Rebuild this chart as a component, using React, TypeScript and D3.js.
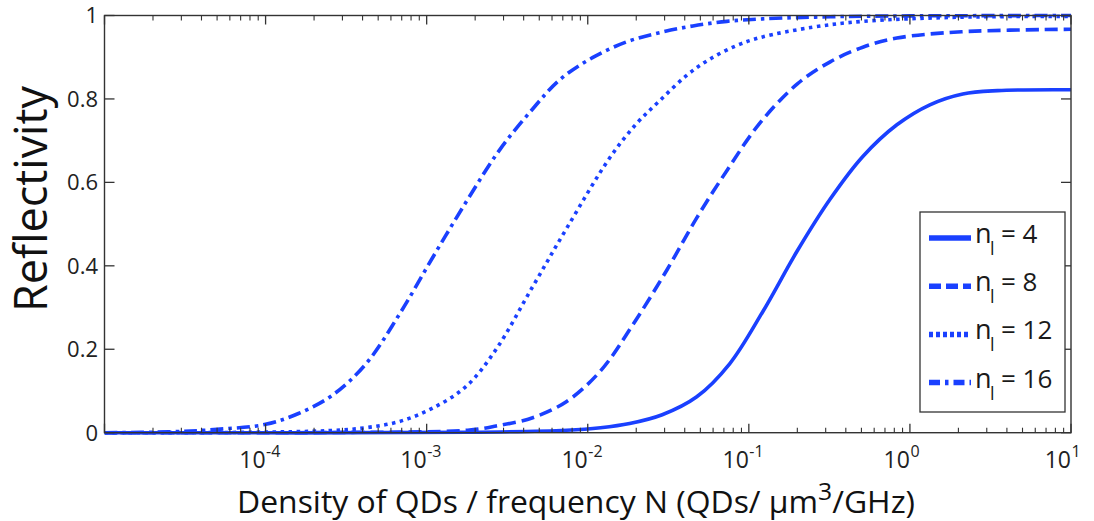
import React from "react";
import * as d3 from "d3";

// ---- data ----
const n4N = [1e-5, 1.8e-3, 7.4e-3, 1.2e-2, 1.82e-2, 2.9e-2, 4.75e-2, 7.6e-2, 0.122, 0.2, 0.32, 0.51, 0.83, 1.33, 2.13, 3.5, 10];
const n4R = [0, 0.001, 0.006, 0.012, 0.022, 0.043, 0.086, 0.165, 0.29, 0.436, 0.56, 0.662, 0.738, 0.786, 0.812, 0.82, 0.822];

const n8N = [1e-5, 2.5e-4, 1.8e-3, 2.7e-3, 4.55e-3, 7.4e-3, 1.2e-2, 1.9e-2, 3.1e-2, 4.75e-2, 7.3e-2, 0.117, 0.2, 0.32, 0.51, 0.83, 2.1, 10];
const n8R = [0, 0.0005, 0.006, 0.016, 0.036, 0.075, 0.148, 0.258, 0.39, 0.515, 0.628, 0.742, 0.836, 0.889, 0.924, 0.946, 0.961, 0.967];

const n12N = [1e-5, 8e-5, 2.5e-4, 4.2e-4, 6.8e-4, 1.09e-3, 1.77e-3, 2.7e-3, 4.55e-3, 7.4e-3, 1.37e-2, 2.0e-2, 2.8e-2, 4.1e-2, 5.7e-2, 8.4e-2, 0.117, 0.25, 0.51, 2.1, 10];
const n12R = [0, 0.001, 0.005, 0.012, 0.027, 0.059, 0.112, 0.2, 0.35, 0.49, 0.659, 0.74, 0.796, 0.856, 0.895, 0.928, 0.947, 0.972, 0.986, 0.996, 0.998];

const n16N = [1e-5, 2.5e-5, 5e-5, 1e-4, 1.6e-4, 2.6e-4, 4.2e-4, 6.8e-4, 1.09e-3, 1.77e-3, 2.84e-3, 4.55e-3, 6.7e-3, 1.07e-2, 1.75e-2, 2.8e-2, 4.5e-2, 7.3e-2, 0.122, 0.32, 1, 10];
const n16R = [0, 0.002, 0.008, 0.02, 0.046, 0.09, 0.165, 0.285, 0.42, 0.555, 0.678, 0.776, 0.846, 0.899, 0.937, 0.959, 0.975, 0.986, 0.992, 0.997, 0.999, 1.0];

const seriesLabels = ["4", "8", "12", "16"];
const yTicks = [0, 0.2, 0.4, 0.6, 0.8, 1];
const yTickLabels = ["0", "0.2", "0.4", "0.6", "0.8", "1"];
const xDecades = [-5, -4, -3, -2, -1, 0, 1];
const xLabelDecades = [-4, -3, -2, -1, 0, 1];

const BLUE = "#1a40ff";
const AXIS = "#333333";
const FONT = "'Open Sans', 'Noto Sans', sans-serif";

const W = 1094;
const H = 521;
const L = 104.5, R = 1071, T = 15.5, B = 432.7;

export default function App() {
  const x = d3.scaleLog().domain([1e-5, 10]).range([L, R]);
  const y = d3.scaleLinear().domain([0, 1]).range([B, T]);
  const line = d3
    .line<[number, number]>()
    .x((d) => x(d[0]))
    .y((d) => y(d[1]))
    .curve(d3.curveCatmullRom.alpha(0.5));

  const series = [
    { N: n4N, R: n4R, dash: "none", ldash: "none" },
    { N: n8N, R: n8R, dash: "13,6", ldash: "12,5" },
    { N: n12N, R: n12R, dash: "3.5,4.5", ldash: "4,3" },
    { N: n16N, R: n16R, dash: "13,5,3.5,5", ldash: "11,5,3.5,5" },
  ];

  const majorTicks = xDecades.map((e) => Math.pow(10, e));
  const minorTicks: number[] = [];
  for (let e = -5; e < 1; e++) {
    for (let m = 2; m <= 9; m++) minorTicks.push(m * Math.pow(10, e));
  }

  const lgX = 920, lgY = 212, lgW = 145, lgH = 200;
  const rowBase = (i: number) => 243 + i * 48.2;

  return (
    <svg
      width={W}
      height={H}
      style={{ position: "absolute", left: 0, top: 0, background: "#fff" }}
      fontFamily={FONT}
    >
      <rect x={0} y={0} width={W} height={H} fill="#fff" />
      <defs>
        <clipPath id="clip">
          <rect x={L} y={T - 4} width={R - L} height={B - T + 8} />
        </clipPath>
      </defs>
      {/* curves */}
      <g clipPath="url(#clip)">
        {series.map((s, i) => (
          <path
            key={i}
            d={line(s.N.map((n, k) => [n, s.R[k]] as [number, number])) || ""}
            fill="none"
            stroke={BLUE}
            strokeWidth={3.6}
            strokeDasharray={s.dash}
          />
        ))}
      </g>

      {/* axes box */}
      <rect x={L} y={T} width={R - L} height={B - T} fill="none" stroke={AXIS} strokeWidth={1.4} />

      {/* x ticks bottom & top */}
      {majorTicks.map((t, i) => (
        <g key={"M" + i} stroke={AXIS} strokeWidth={1.3}>
          <line x1={x(t)} x2={x(t)} y1={B} y2={B - 9} />
          <line x1={x(t)} x2={x(t)} y1={T} y2={T + 9} />
        </g>
      ))}
      {minorTicks.map((t, i) => (
        <g key={"m" + i} stroke={AXIS} strokeWidth={1.1}>
          <line x1={x(t)} x2={x(t)} y1={B} y2={B - 5} />
          <line x1={x(t)} x2={x(t)} y1={T} y2={T + 5} />
        </g>
      ))}
      {/* y ticks left & right */}
      {yTicks.map((t, i) => (
        <g key={"y" + i} stroke={AXIS} strokeWidth={1.3}>
          <line x1={L} x2={L + 10} y1={y(t)} y2={y(t)} />
          <line x1={R} x2={R - 10} y1={y(t)} y2={y(t)} />
        </g>
      ))}

      {/* y tick labels */}
      {yTicks.map((t, i) => (
        <text
          key={"yl" + i}
          x={98}
          y={y(t)}
          dy="0.36em"
          textAnchor="end"
          fontSize={22}
          fill="#222"
        >
          {yTickLabels[i]}
        </text>
      ))}

      {/* x tick labels */}
      {xLabelDecades.map((e) => {
        const px = x(Math.pow(10, e));
        return (
          <g key={"xl" + e} fill="#222">
            <text x={px} y={468} textAnchor="end" fontSize={23}>
              10
            </text>
            <text x={px + 0.5} y={457} textAnchor="start" fontSize={16}>
              {String(e)}
            </text>
          </g>
        );
      })}

      {/* axis labels */}
      <text
        x={237}
        y={513}
        fontSize={31}
        fill="#111"
        textLength={678}
        lengthAdjust="spacingAndGlyphs"
      >
        Density of QDs / frequency N (QDs/ μm
        <tspan dy={-13} fontSize={24}>3</tspan>
        <tspan dy={13}>/GHz)</tspan>
      </text>
      <text
        transform={`translate(47,199) rotate(-90)`}
        textAnchor="middle"
        fontSize={45}
        fill="#111"
        textLength={226}
        lengthAdjust="spacingAndGlyphs"
      >
        Reflectivity
      </text>

      {/* legend */}
      <rect x={lgX} y={lgY} width={lgW} height={lgH} fill="#fff" stroke={AXIS} strokeWidth={1.3} />
      {series.map((s, i) => {
        const b = rowBase(i);
        return (
          <g key={"lg" + i}>
            <line
              x1={929}
              x2={971}
              y1={b - 5}
              y2={b - 5}
              stroke={BLUE}
              strokeWidth={5.5}
              strokeDasharray={s.ldash}
            />
            <text x={975} y={b} fontSize={27} fill="#1a1a1a">
              n
            </text>
            <text x={990} y={b + 12} fontSize={18} fill="#1a1a1a">
              l
            </text>
            <text x={1001} y={b} fontSize={26} fill="#1a1a1a">
              {"= " + seriesLabels[i]}
            </text>
          </g>
        );
      })}
    </svg>
  );
}
